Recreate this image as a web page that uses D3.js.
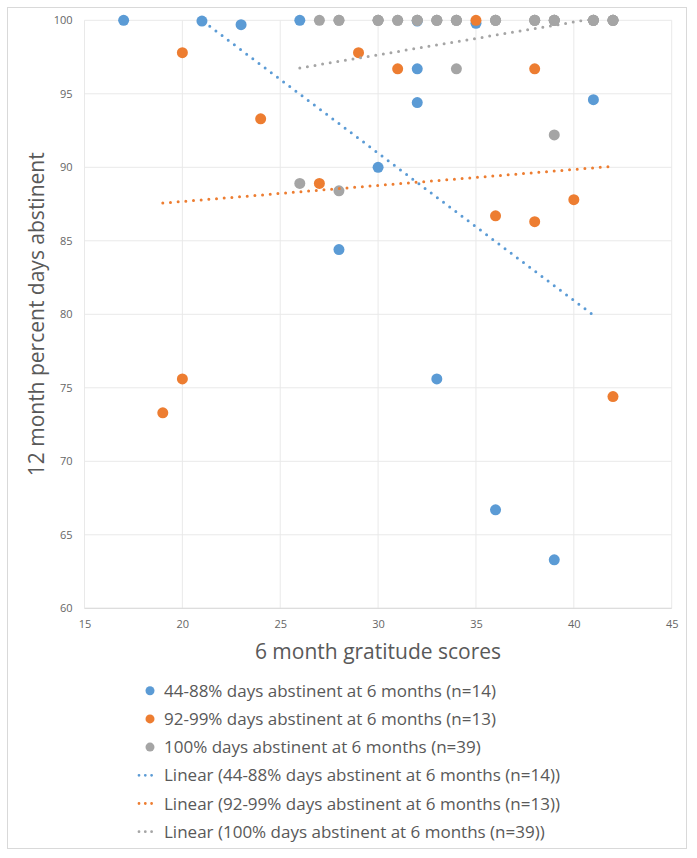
<!DOCTYPE html>
<html><head><meta charset="utf-8">
<script src="https://cdn.jsdelivr.net/npm/d3@7"></script>
<style>body{margin:0;background:#fff}svg{display:block}text{font-family:"Open Sans",sans-serif}</style>
</head><body><div id="chart"></div>
<script>
// ---- data ----
const seriesNames = [
  "44-88% days abstinent at 6 months (n=14)",
  "92-99% days abstinent at 6 months (n=13)",
  "100% days abstinent at 6 months (n=39)"
];
const colors = ["#5B9BD5", "#ED7D31", "#A5A5A5"];
const blueX = [17, 21, 23, 26, 28, 30, 32, 32, 32, 33, 35, 36, 39, 41];
const blueY = [100, 99.95, 99.7, 100, 84.4, 90, 96.7, 94.4, 99.95, 75.6, 99.8, 66.7, 63.3, 94.6];
const orangeX = [19, 20, 20, 24, 27, 29, 31, 35, 36, 38, 38, 40, 42];
const orangeY = [73.3, 75.6, 97.8, 93.3, 88.9, 97.8, 96.7, 100, 86.7, 86.3, 96.7, 87.8, 74.4];
const greyX = [26, 28, 34, 39,
  27, 28, 28, 30, 30, 30, 31, 31, 32, 32, 32, 33, 33, 33, 34, 34, 34,
  36, 36, 36, 38, 38, 38, 39, 39, 39, 39, 41, 41, 41, 41, 42, 42, 42, 42];
const greyY = [88.9, 88.4, 96.7, 92.2,
  100, 100, 100, 100, 100, 100, 100, 100, 100, 100, 100, 100, 100, 100, 100, 100, 100,
  100, 100, 100, 100, 100, 100, 100, 100, 100, 100, 100, 100, 100, 100, 100, 100, 100, 100];
// linear trend lines: [xStart, yStart, xEnd, yEnd]
const trendBlue = [17, 104.0, 41, 79.94];
const trendOrange = [19, 87.57, 42, 90.07];
const trendGrey = [26, 96.76, 42, 100.33];
const xTicks = [15, 20, 25, 30, 35, 40, 45];
const yTicks = [60, 65, 70, 75, 80, 85, 90, 95, 100];
const xTitle = "6 month gratitude scores";
const yTitle = "12 month percent days abstinent";

// ---- drawing ----
const W = 697, H = 858;
const svg = d3.select("#chart").append("svg").attr("width", W).attr("height", H);
svg.append("rect").attr("x", 7.5).attr("y", 7.5).attr("width", 679).attr("height", 841)
  .attr("fill", "#fff").attr("stroke", "#D9D9D9");

const x = d3.scaleLinear().domain([15, 45]).range([84.5, 671.7]);
const y = d3.scaleLinear().domain([60, 100]).range([608.3, 20.3]);

const grid = svg.append("g");
grid.selectAll(".vx").data(xTicks).join("line")
  .attr("x1", d => x(d)).attr("x2", d => x(d)).attr("y1", y(60)).attr("y2", y(100))
  .attr("stroke", "#E9E9E9").attr("stroke-width", 1);
grid.selectAll(".hy").data(yTicks).join("line")
  .attr("y1", d => y(d)).attr("y2", d => y(d)).attr("x1", x(15)).attr("x2", x(45))
  .attr("stroke", "#E9E9E9").attr("stroke-width", 1);
svg.append("line").attr("x1", x(15)).attr("x2", x(45)).attr("y1", y(60)).attr("y2", y(60))
  .attr("stroke", "#D9D9D9");

const xAxis = svg.append("g").attr("transform", `translate(0,${y(60)})`)
  .call(d3.axisBottom(x).tickValues(xTicks).tickSize(0).tickPadding(12));
const yAxis = svg.append("g").attr("transform", `translate(${x(15)},0)`)
  .call(d3.axisLeft(y).tickValues(yTicks).tickSize(0).tickPadding(12));
[xAxis, yAxis].forEach(a => {
  a.select(".domain").remove();
  a.selectAll("text").attr("fill", "#666").style("font-size", "11px").style("font-family", '"Open Sans",sans-serif');
});

svg.append("text").attr("x", 378).attr("y", 659).attr("text-anchor", "middle")
  .attr("fill", "#595959").style("font-size", "21px").text(xTitle);
svg.append("text").attr("transform", `translate(44,${(y(60) + y(100)) / 2}) rotate(-90)`)
  .attr("text-anchor", "middle").attr("fill", "#595959").style("font-size", "21px").text(yTitle);

const defs = svg.append("defs");
defs.append("clipPath").attr("id", "plotclip").append("rect")
  .attr("x", x(15)).attr("y", y(100) - 1).attr("width", x(45) - x(15)).attr("height", y(60) - y(100) + 1);

const pts = [
  blueX.map((d, i) => [d, blueY[i]]),
  orangeX.map((d, i) => [d, orangeY[i]]),
  greyX.map((d, i) => [d, greyY[i]])
];
const trends = [trendBlue, trendOrange, trendGrey];

const plot = svg.append("g");
pts.forEach((s, k) => {
  plot.append("g").selectAll("circle").data(s).join("circle")
    .attr("cx", d => x(d[0])).attr("cy", d => y(d[1])).attr("r", 5.5)
    .attr("fill", colors[k]);
});
const lineGen = d3.line().x(d => x(d[0])).y(d => y(d[1]));
trends.forEach((t, k) => {
  plot.append("path").attr("clip-path", "url(#plotclip)")
    .attr("d", lineGen([[t[0], t[1]], [t[2], t[3]]]))
    .attr("fill", "none").attr("stroke", colors[k]).attr("stroke-width", 3)
    .attr("stroke-linecap", "round").attr("stroke-dasharray", "0 7.7");
});

// legend
const legendItems = seriesNames.map((n, i) => ({ type: "dot", name: n, c: colors[i] }))
  .concat(seriesNames.map((n, i) => ({ type: "line", name: "Linear (" + n + ")", c: colors[i] })));
const lg = svg.append("g");
legendItems.forEach((it, i) => {
  const cy = 690.7 + i * 28.2;
  if (it.type === "dot") {
    lg.append("circle").attr("cx", 150).attr("cy", cy).attr("r", 4.5).attr("fill", it.c);
  } else {
    lg.append("path").attr("d", `M139,${cy}L157,${cy}`).attr("stroke", it.c).attr("stroke-width", 2.8)
      .attr("stroke-linecap", "round").attr("stroke-dasharray", "0 6.3").attr("fill", "none");
  }
  lg.append("text").attr("x", 164).attr("y", cy + 6).attr("fill", "#595959")
    .style("font-size", "17px").text(it.name);
});
</script></body></html>
